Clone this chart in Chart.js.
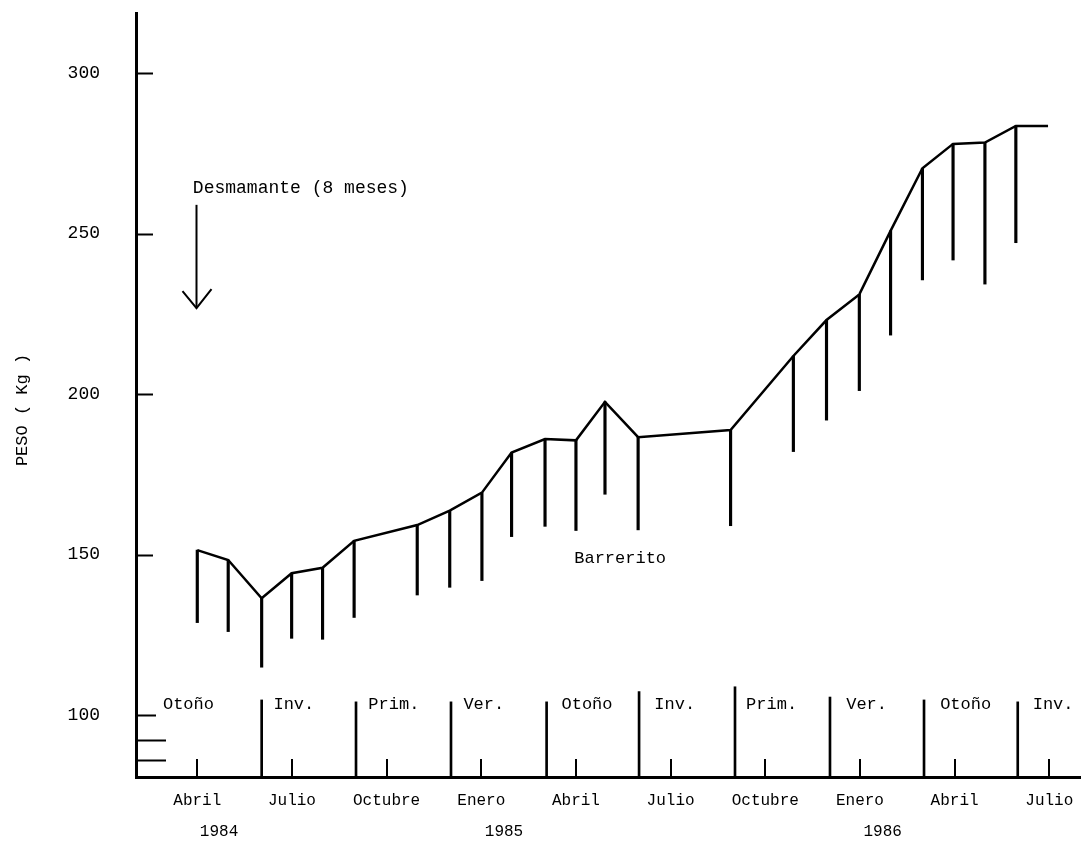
<!DOCTYPE html>
<html>
<head>
<meta charset="utf-8">
<script src="https://cdn.jsdelivr.net/npm/chart.js@4/dist/chart.umd.min.js"></script>
<style>
html,body{margin:0;padding:0;background:#fff;}
#wrap{width:1087px;height:841px;position:relative;}
</style>
</head>
<body>
<div id="wrap"><canvas id="c" width="1087" height="841"></canvas></div>
<script>
// ---- data (months counted from January 1984 = 0) ----
const meses   = [3.00, 3.98, 5.04, 5.99, 6.97, 7.97, 9.97, 11.00, 12.02, 12.96, 14.02, 15.00, 15.92, 16.97, 19.90, 21.89, 22.94, 23.98, 24.97, 25.98, 26.95, 27.96, 28.94, 29.96];
const peso    = [151.4, 148.3, 136.4, 144.2, 145.9, 154.3, 159.2, 163.7, 169.3, 181.8, 186.0, 185.6, 197.6, 186.6, 188.8, 211.9, 223.1, 231.1, 250.9, 270.4, 278.0, 278.4, 283.6, 283.6];
const pesoMin = [128.8, 126.0, 114.9, 123.9, 123.6, 130.4, 137.4, 139.8, 141.9, 155.6, 158.8, 157.5, 168.8, 157.7, 159.0, 182.1, 191.9, 201.1, 218.4, 235.6, 241.8, 234.3, 247.2, null];

const mesTicks  = [3, 6, 9, 12, 15, 18, 21, 24, 27, 30];
const mesLabels = ["Abril","Julio","Octubre","Enero","Abril","Julio","Octubre","Enero","Abril","Julio"];
const anios     = ["1984","1985","1986"];
const anioPos   = [3.69, 12.72, 24.72];
const yTicks    = [100, 150, 200, 250, 300];
const yMarcasExtra = [92.2, 85.9];

const estacionLimites = [5.04, 8.03, 11.04, 14.07, 17.00, 20.04, 23.05, 26.03, 29.00];
const estacionTopes   = [104.7, 104.1, 104.1, 104.1, 107.3, 108.8, 105.6, 104.7, 104.1];
const estaciones      = ["Otoño","Inv.","Prim.","Ver.","Otoño","Inv.","Prim.","Ver.","Otoño","Inv."];
const estacionPos     = [2.72, 6.06, 9.23, 12.08, 15.35, 18.13, 21.2, 24.21, 27.35, 30.12];
const estacionY       = 103.4;

const desmamante = {texto: "Desmamante (8 meses)", mesTexto: 2.86, yTexto: 264.3, mesFlecha: 2.96, desde: 259.0, hasta: 226.8};
const barrerito  = {texto: "Barrerito", mes: 16.4, y: 148.9};
const tituloY = "PESO ( Kg )";

const X_MIN = 1.058, X_MAX = 30.973;
const Y_MIN = 80.68, Y_MAX = 318.79;

const FONT = "'Liberation Mono', 'DejaVu Sans Mono', monospace";

const extras = {
  id: 'extras',
  afterDraw(chart) {
    const ctx = chart.ctx;
    const xs = chart.scales.x, ys = chart.scales.y;
    const ca = chart.chartArea;
    ctx.save();
    ctx.strokeStyle = '#000';
    ctx.fillStyle = '#000';
    // inward y ticks
    ctx.lineWidth = 2;
    yTicks.forEach(v => {
      const py = Math.round(ys.getPixelForValue(v)) + 0.5;
      ctx.beginPath(); ctx.moveTo(ca.left, py); ctx.lineTo(ca.left + (v === 100 ? 20 : 17), py); ctx.stroke();
    });
    yMarcasExtra.forEach(v => {
      const py = Math.round(ys.getPixelForValue(v)) + 0.5;
      ctx.beginPath(); ctx.moveTo(ca.left, py); ctx.lineTo(ca.left + 30, py); ctx.stroke();
    });
    // inward month ticks
    mesTicks.forEach(m => {
      const px = Math.round(xs.getPixelForValue(m));
      ctx.beginPath(); ctx.moveTo(px, ca.bottom); ctx.lineTo(px, ca.bottom - 18); ctx.stroke();
    });
    // season labels
    ctx.font = "17px " + FONT;
    ctx.textAlign = 'center'; ctx.textBaseline = 'middle';
    estaciones.forEach((s, i) => {
      ctx.fillText(s, xs.getPixelForValue(estacionPos[i]), ys.getPixelForValue(estacionY));
    });
    // years
    ctx.font = "16px " + FONT;
    anios.forEach((a, i) => {
      ctx.fillText(a, xs.getPixelForValue(anioPos[i]), xs.top + 55);
    });
    // Barrerito
    ctx.font = "17px " + FONT;
    ctx.fillText(barrerito.texto, xs.getPixelForValue(barrerito.mes), ys.getPixelForValue(barrerito.y));
    // Desmamante
    ctx.font = "18px " + FONT;
    ctx.textAlign = 'left';
    ctx.fillText(desmamante.texto, xs.getPixelForValue(desmamante.mesTexto), ys.getPixelForValue(desmamante.yTexto));
    const ax = Math.round(xs.getPixelForValue(desmamante.mesFlecha)) + 0.5;
    const ay0 = ys.getPixelForValue(desmamante.desde), ay1 = ys.getPixelForValue(desmamante.hasta);
    ctx.lineWidth = 2;
    ctx.beginPath(); ctx.moveTo(ax, ay0); ctx.lineTo(ax, ay1); ctx.stroke();
    ctx.beginPath(); ctx.moveTo(ax - 14, ay1 - 17); ctx.lineTo(ax, ay1); ctx.lineTo(ax + 15, ay1 - 19); ctx.stroke();
    // y title
    ctx.font = "17px " + FONT;
    ctx.textAlign = 'center';
    ctx.translate(22, 410);
    ctx.rotate(-Math.PI / 2);
    ctx.fillText(tituloY, 0, 0);
    ctx.restore();
  }
};

new Chart(document.getElementById('c'), {
  type: 'line',
  data: {
    datasets: [
      {
        type: 'line',
        data: meses.map((m, i) => ({x: m, y: peso[i]})),
        borderColor: '#000', borderWidth: 2.5, pointRadius: 0, tension: 0, fill: false
      },
      {
        type: 'bar',
        data: meses.map((m, i) => pesoMin[i] == null ? null : ({x: m, y: [pesoMin[i], peso[i]]})).filter(d => d),
        backgroundColor: '#000', borderWidth: 0, barThickness: 2.5, grouped: false
      },
      {
        type: 'bar',
        data: estacionLimites.map((m, i) => ({x: m, y: [Y_MIN, estacionTopes[i]]})),
        backgroundColor: '#000', borderWidth: 0, barThickness: 2, grouped: false
      }
    ]
  },
  options: {
    responsive: false,
    animation: false,
    devicePixelRatio: 1,
    layout: {padding: {top: 13, right: 7, left: 0, bottom: 0}},
    plugins: {legend: {display: false}, tooltip: {enabled: false}},
    scales: {
      x: {
        type: 'linear', min: X_MIN, max: X_MAX, offset: false, bounds: 'data',
        afterBuildTicks: s => { s.ticks = mesTicks.map(v => ({value: v})); },
        afterFit: s => { s.height = 64; s.paddingLeft = 0; s.paddingRight = 0; },
        grid: {display: false, drawTicks: false, offset: false},
        border: {display: true, width: 3, color: '#000'},
        ticks: {
          autoSkip: false, maxRotation: 0, minRotation: 0, padding: 14, color: '#000',
          font: {family: FONT, size: 16},
          callback: (v) => mesLabels[mesTicks.indexOf(v)]
        }
      },
      y: {
        type: 'linear', min: Y_MIN, max: Y_MAX, bounds: 'data',
        afterBuildTicks: s => { s.ticks = yTicks.map(v => ({value: v})); },
        afterFit: s => { s.width = 136; s.paddingTop = 0; s.paddingBottom = 0; },
        grid: {display: false, drawTicks: false},
        border: {display: true, width: 3, color: '#000'},
        ticks: {padding: 36, color: '#000', font: {family: FONT, size: 18}, callback: v => String(v)}
      }
    }
  },
  plugins: [extras]
});
</script>
</body>
</html>
